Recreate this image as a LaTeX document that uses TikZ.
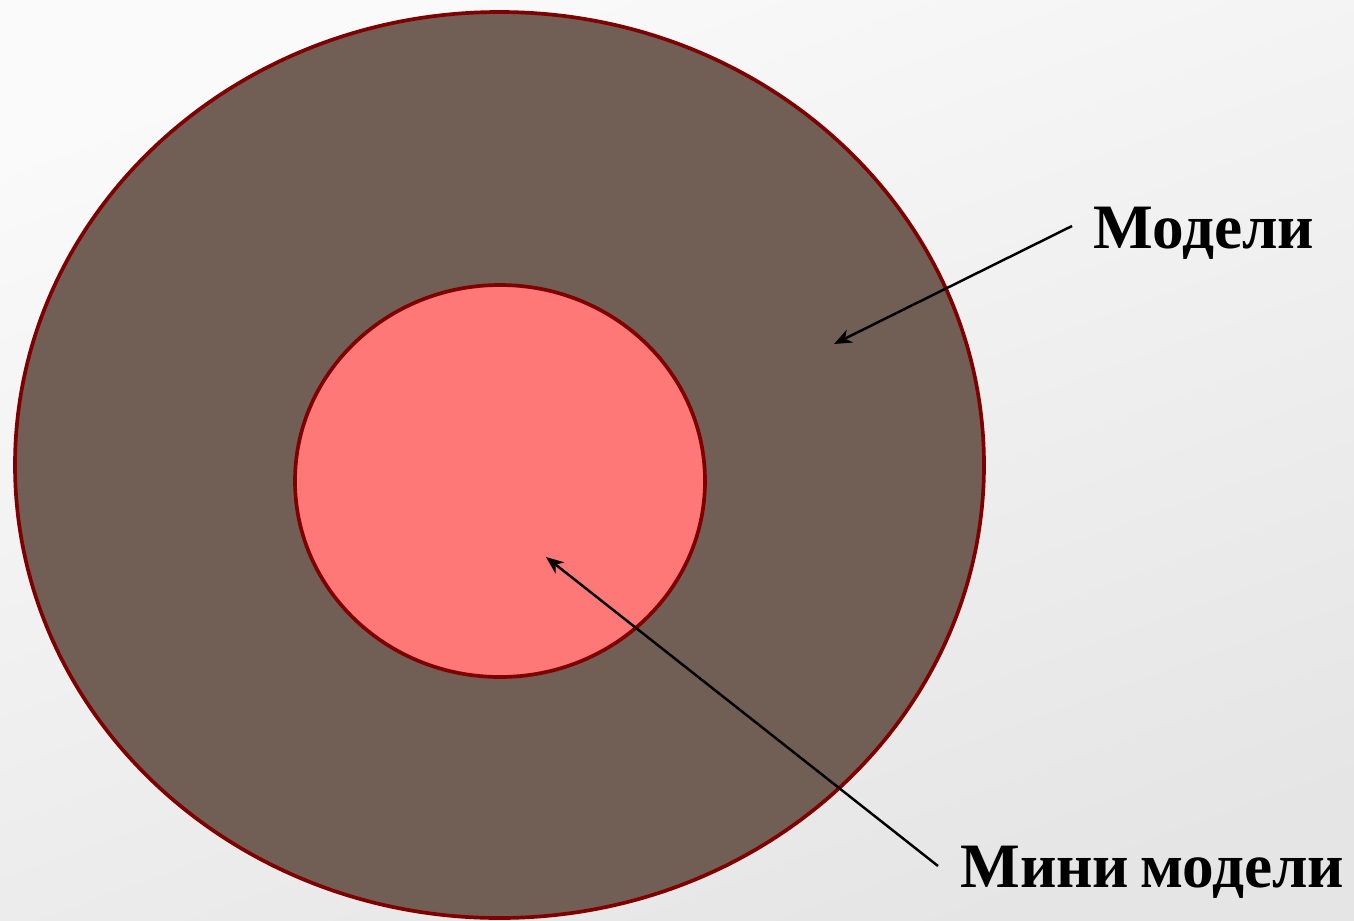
\documentclass[tikz,border=0pt]{standalone}
\usepackage{fontspec}
\setmainfont{Liberation Serif}
\usetikzlibrary{arrows.meta,shapes.geometric}
\definecolor{outerfill}{HTML}{715F55}
\definecolor{rimred}{HTML}{800000}
\definecolor{innerfill}{HTML}{FF7878}
\tikzset{
  ring/.style={draw=rimred, line width=2.1pt},
  pointer/.style={draw=black, line width=1.4pt, -{Stealth[length=10pt,width=8pt,inset=3pt]}},
  label/.style={font=\fontsize{36}{40}\selectfont\bfseries, inner sep=0pt, anchor=base west}
}
\begin{document}
\begin{tikzpicture}[x=0.02cm, y=-0.02cm]
\shade[top color=gray!4, bottom color=gray!20, shading angle=20] (0,0) rectangle (1354,920);
\useasboundingbox (0,0) rectangle (1354,920);
\node[ring, ellipse, fill=outerfill, minimum width=969*0.02cm, minimum height=906*0.02cm, inner sep=0pt] (outer) at (499.5,465) {};
\node[ring, ellipse, fill=innerfill, minimum width=410*0.02cm, minimum height=392*0.02cm, inner sep=0pt] (inner) at (500,481) {};
\node[label] (modeli) at (1093,248) {Модели};
\node[label] (mini) at (960,887) {Мини\hspace{-0.08em} модели};
\coordinate (s1) at (1072,226);
\coordinate (t1) at (834,344);
\coordinate (s2) at (938,866);
\coordinate (t2) at (546,557);
\draw[pointer] (s1) -- (t1);
\draw[pointer] (s2) -- (t2);
\end{tikzpicture}
\end{document}
